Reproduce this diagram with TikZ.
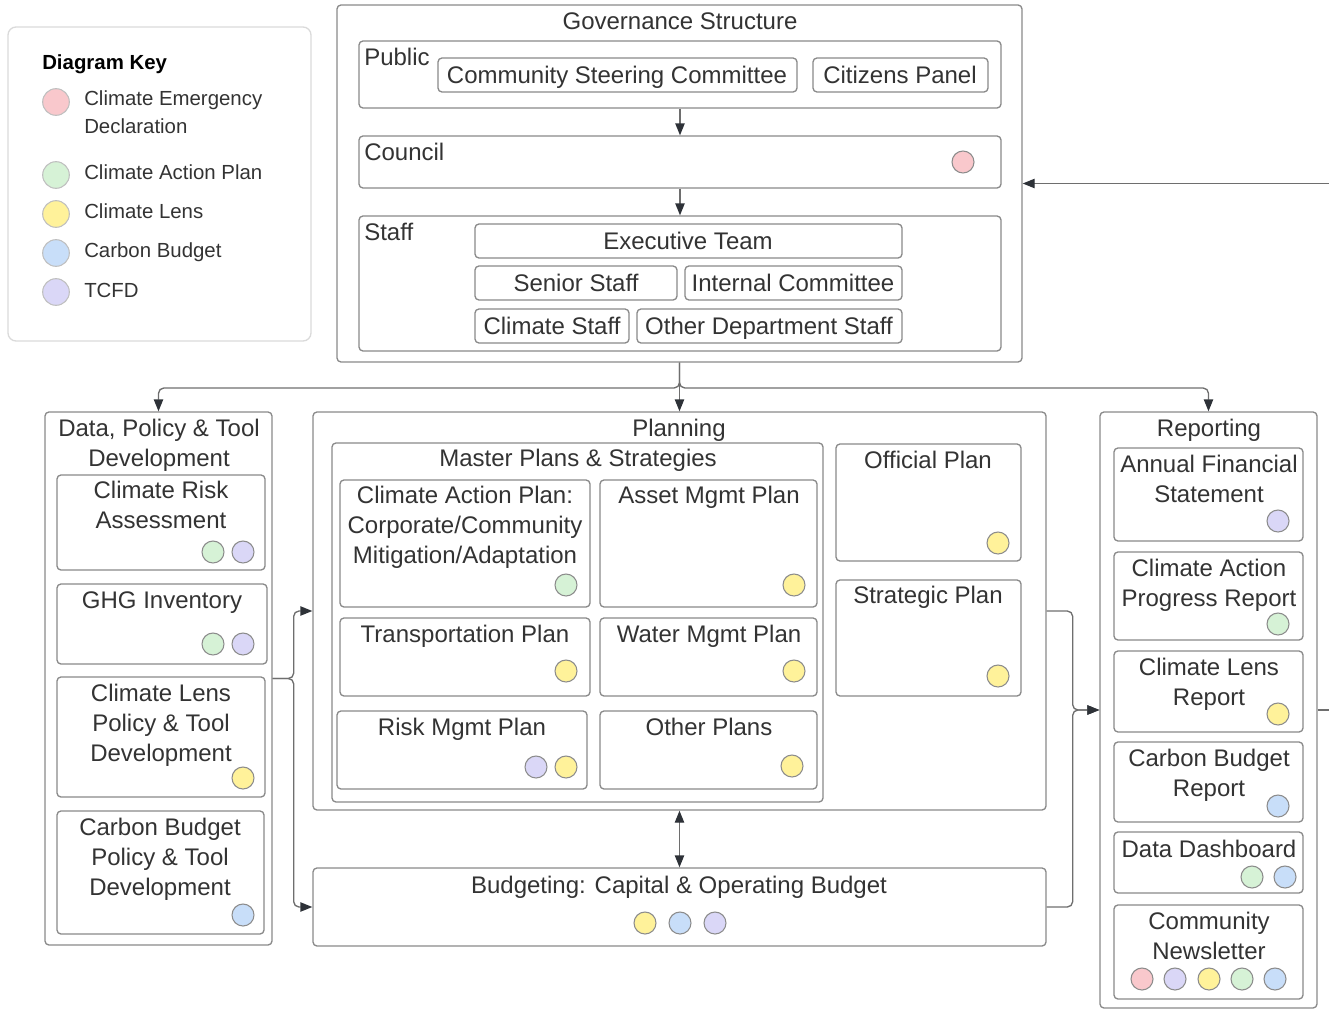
\documentclass[tikz,border=0pt]{standalone}
\usepackage{fontspec}
\setmainfont{Liberation Sans}
\usetikzlibrary{arrows.meta}
\definecolor{tx}{HTML}{333333}
\definecolor{bc}{HTML}{8A8A8A}
\definecolor{kc}{HTML}{DADADA}
\definecolor{lc}{HTML}{6E6E6E}
\definecolor{ac}{HTML}{2E3238}
\definecolor{cP}{HTML}{F9C8CC}
\definecolor{cG}{HTML}{D6F2D6}
\definecolor{cY}{HTML}{FFF29A}
\definecolor{cB}{HTML}{C8DEF9}
\definecolor{cV}{HTML}{DAD7F7}
\definecolor{dc}{HTML}{8C8C8C}
\tikzset{
  box/.style={draw=bc, line width=1pt, rounded corners=3pt, inner sep=0pt, fill=white},
  keybox/.style={draw=kc, line width=1pt, rounded corners=6pt, inner sep=0pt},
  txt/.style={font=\fontsize{18}{22.5}\selectfont, text=tx, inner sep=0pt, align=center},
  ktxt/.style={font=\fontsize{15.3}{20.3}\selectfont, text=tx, inner sep=0pt, align=left, anchor=base west},
  dot/.style={circle, draw=dc, line width=0.8pt, minimum size=16.5pt, inner sep=0pt},
  kdot/.style={circle, draw=kc!70!gray, line width=0.8pt, minimum size=20pt, inner sep=0pt},
  conn/.style={draw=lc, line width=1pt},
  tipa/.tip={Triangle[length=9pt,width=7pt,color=ac]},
  arr/.style={conn, -tipa},
  darr/.style={conn, tipa-tipa},
}
\newcommand\bx[5]{\node[box, minimum width={(#4-#2)*0.75pt}, minimum height={(#5-#3)*0.75pt}] (#1) at ({(#2+#4)/2},{(#3+#5)/2}) {};}
% optional arg: number of lines; y is baseline of the first line
\newcommand\tx[5][1]{\node[txt, anchor=base] (#2) at (#3,{#4+(#1-1)*30}) {#5};}
\newcommand\dt[4]{\node[dot, fill=#4] (#1) at (#2,#3) {};}
\begin{document}
\begin{tikzpicture}[x=0.75pt, y=-0.75pt]
\useasboundingbox (0,0) rectangle (1329,1010);

% ---------- Key ----------
\node[keybox, minimum width={303*0.75pt}, minimum height={314*0.75pt}] (key) at (159.5,184) {};
\node[ktxt, font=\fontsize{15.3}{20.3}\selectfont\bfseries, text=black] (keyt) at (42,69) {Diagram Key};
\node[kdot, fill=cP] (k1) at (56,102) {};
\node[kdot, fill=cG] (k2) at (56,175) {};
\node[kdot, fill=cY] (k3) at (56,214) {};
\node[kdot, fill=cB] (k4) at (56,253) {};
\node[kdot, fill=cV] (k5) at (56,292) {};
\node[ktxt] (k1t) at (84,133) {Climate Emergency\\Declaration};
\node[ktxt] (k2t) at (84,179) {Climate Action Plan};
\node[ktxt] (k3t) at (84,218) {Climate Lens};
\node[ktxt] (k4t) at (84,257) {Carbon Budget};
\node[ktxt] (k5t) at (84,297) {TCFD};

% ---------- Governance ----------
\bx{gov}{337}{5}{1022}{362}
\tx{govt}{680}{29}{Governance Structure}
\bx{pub}{359}{41}{1001}{108}
\node[txt, anchor=base west] (pubt) at (364,65) {Public};
\bx{csc}{438}{58}{797}{92}
\tx{csct}{617}{83}{Community Steering Committee}
\bx{cit}{813}{58}{988}{92}
\tx{citt}{900}{83}{Citizens Panel}
\bx{cou}{359}{136}{1001}{188}
\node[txt, anchor=base west] (cout) at (364,160) {Council};
\dt{coud}{963}{162}{cP}
\bx{stf}{359}{216}{1001}{351}
\node[txt, anchor=base west] (stft) at (364,240) {Staff};
\bx{exe}{475}{224}{902}{258}
\tx{exet}{688}{249}{Executive Team}
\bx{sen}{475}{266}{677}{300}
\tx{sent}{576}{291}{Senior Staff}
\bx{int}{685}{266}{902}{300}
\tx{intt}{793}{291}{Internal Committee}
\bx{cls}{475}{309}{629}{343}
\tx{clst}{552}{334}{Climate Staff}
\bx{oth}{637}{309}{902}{343}
\tx{otht}{769}{334}{Other Department Staff}

% ---------- Data, Policy & Tool ----------
\bx{dpt}{45}{412}{272}{945}
\tx[2]{dptt}{159}{436}{Data, Policy \& Tool\\Development}
\bx{cra}{57}{475}{265}{570}
\tx[2]{crat}{161}{498}{Climate Risk\\Assessment}
\dt{crad1}{213}{552}{cG}
\dt{crad2}{243}{552}{cV}
\bx{ghg}{57}{584}{267}{664}
\tx{ghgt}{162}{608}{GHG Inventory}
\dt{ghgd1}{213}{644}{cG}
\dt{ghgd2}{243}{644}{cV}
\bx{clp}{57}{677}{265}{797}
\tx[3]{clpt}{161}{701}{Climate Lens\\Policy \& Tool\\Development}
\dt{clpd}{243}{778}{cY}
\bx{cbp}{57}{811}{264}{934}
\tx[3]{cbpt}{160}{835}{Carbon Budget\\Policy \& Tool\\Development}
\dt{cbpd}{243}{915}{cB}

% ---------- Planning ----------
\bx{pln}{313}{412}{1046}{810}
\tx{plnt}{679}{436}{Planning}
\bx{mps}{332}{443}{823}{802}
\tx{mpst}{578}{466}{Master Plans \& Strategies}
\bx{cap}{340}{480}{590}{607}
\tx[3]{capt}{465}{503}{Climate Action Plan:\\Corporate/Community\\Mitigation/Adaptation}
\dt{capd}{566}{585}{cG}
\bx{amp}{600}{480}{817}{607}
\tx{ampt}{709}{503}{Asset Mgmt Plan}
\dt{ampd}{794}{585}{cY}
\bx{trp}{340}{618}{590}{696}
\tx{trpt}{465}{642}{Transportation Plan}
\dt{trpd}{566}{671}{cY}
\bx{wmp}{600}{618}{817}{696}
\tx{wmpt}{709}{642}{Water Mgmt Plan}
\dt{wmpd}{794}{671}{cY}
\bx{rmp}{337}{711}{587}{789}
\tx{rmpt}{462}{735}{Risk Mgmt Plan}
\dt{rmpd1}{536}{767}{cV}
\dt{rmpd2}{566}{767}{cY}
\bx{opl}{600}{711}{817}{789}
\tx{oplt}{709}{735}{Other Plans}
\dt{opld}{792}{766}{cY}
\bx{ofp}{836}{444}{1021}{561}
\tx{ofpt}{928}{468}{Official Plan}
\dt{ofpd}{998}{543}{cY}
\bx{stp}{836}{580}{1021}{696}
\tx{stpt}{928}{603}{Strategic Plan}
\dt{stpd}{998}{676}{cY}

% ---------- Budgeting ----------
\bx{bud}{313}{868}{1046}{946}
\tx{budt}{679}{893}{Budgeting: Capital \& Operating Budget}
\dt{budd1}{645}{923}{cY}
\dt{budd2}{680}{923}{cB}
\dt{budd3}{715}{923}{cV}

% ---------- Reporting ----------
\bx{rep}{1100}{412}{1317}{1008}
\tx{rept}{1209}{436}{Reporting}
\bx{afs}{1114}{448}{1303}{541}
\tx[2]{afst}{1209}{472}{Annual Financial\\Statement}
\dt{afsd}{1278}{521}{cV}
\bx{cpr}{1114}{552}{1303}{640}
\tx[2]{cprt}{1209}{576}{Climate Action\\Progress Report}
\dt{cprd}{1278}{624}{cG}
\bx{clr}{1114}{651}{1303}{732}
\tx[2]{clrt}{1209}{675}{Climate Lens\\Report}
\dt{clrd}{1278}{714}{cY}
\bx{cbr}{1114}{742}{1303}{822}
\tx[2]{cbrt}{1209}{766}{Carbon Budget\\Report}
\dt{cbrd}{1278}{806}{cB}
\bx{dsh}{1114}{832}{1303}{893}
\tx{dsht}{1209}{857}{Data Dashboard}
\dt{dshd1}{1252}{877}{cG}
\dt{dshd2}{1285}{877}{cB}
\bx{cnl}{1114}{905}{1303}{999}
\tx[2]{cnlt}{1209}{929}{Community\\Newsletter}
\dt{cnld1}{1142}{979}{cP}
\dt{cnld2}{1175}{979}{cV}
\dt{cnld3}{1209}{979}{cY}
\dt{cnld4}{1242}{979}{cG}
\dt{cnld5}{1275}{979}{cB}

% ---------- Connectors ----------
\draw[arr] (pub.south) -- (cou.north);
\draw[arr] (cou.south) -- (stf.north);
\coordinate (split) at (679.5,388);
\draw[arr, rounded corners=4pt] (gov.south) -- (split) -| (dpt.north);
\draw[arr, rounded corners=4pt] (gov.south) -- (split) -| (rep.north);
\draw[arr] (gov.south) -- (pln.north);
\draw[arr, rounded corners=4pt] (dpt.east) -- ++(21,0) |- (pln.west);
\draw[arr, rounded corners=4pt] (dpt.east) -- ++(21,0) |- (bud.west);
\draw[darr] (pln.south) -- (bud.north);
\draw[arr, rounded corners=4pt] (pln.east) -- ++(26,0) |- (rep.west);
\draw[arr, rounded corners=4pt] (bud.east) -- ++(26,0) |- (rep.west);
\coordinate (fbout) at (1329,710);
\coordinate (fbin) at (1329,183.5);
\draw[conn] (rep.east) -- (fbout);
\draw[arr] (fbin) -- (gov.east);
\end{tikzpicture}
\end{document}
